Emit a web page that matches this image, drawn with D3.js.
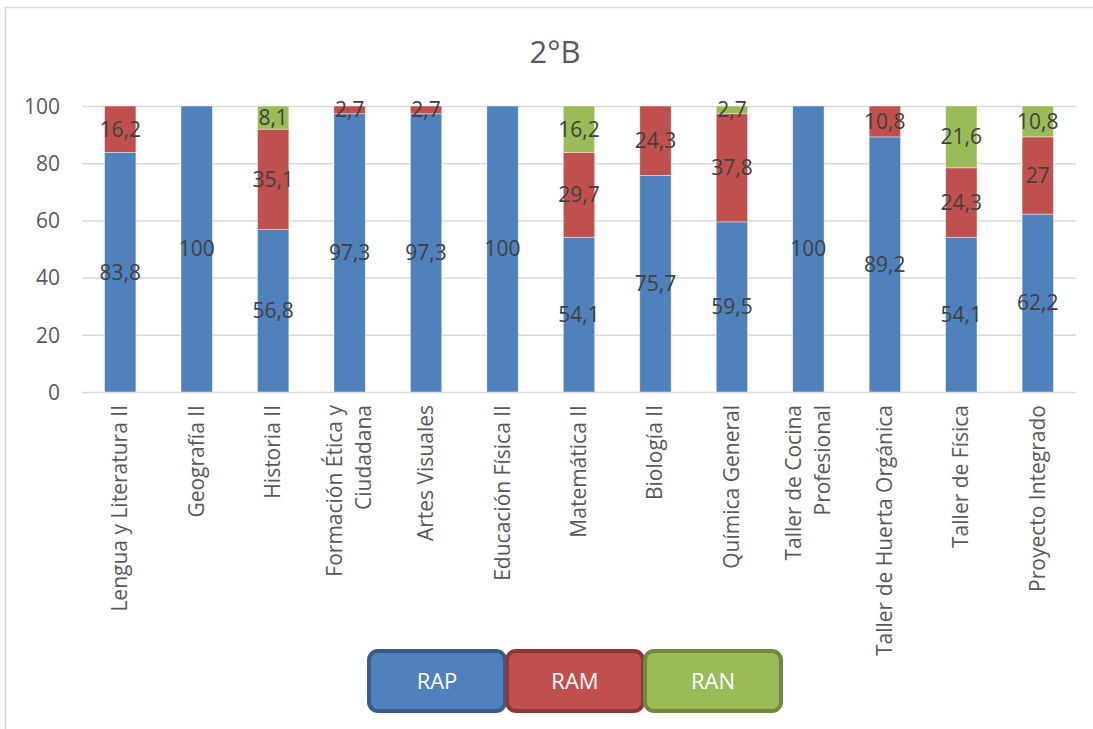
<!DOCTYPE html>
<html>
<head>
<meta charset="utf-8">
<script src="https://cdn.jsdelivr.net/npm/d3@7"></script>
<style>
  html, body { margin: 0; padding: 0; background: #fff; }
  svg { display: block; font-family: "Open Sans", sans-serif; }
</style>
</head>
<body>
<svg id="chart" width="1093" height="729"></svg>
<script>
const categories = [
  ["Lengua y Literatura II"],
  ["Geografía II"],
  ["Historia II"],
  ["Formación Ética y", "Ciudadana"],
  ["Artes Visuales"],
  ["Educación Física II"],
  ["Matemática II"],
  ["Biología II"],
  ["Química General"],
  ["Taller de Cocina", "Profesional"],
  ["Taller de Huerta Orgánica"],
  ["Taller de Física"],
  ["Proyecto Integrado"]
];
const seriesNames = ["RAP", "RAM", "RAN"];
const RAP = [83.8, 100, 56.8, 97.3, 97.3, 100, 54.1, 75.7, 59.5, 100, 89.2, 54.1, 62.2];
const RAM = [16.2, 0, 35.1, 2.7, 2.7, 0, 29.7, 24.3, 37.8, 0, 10.8, 24.3, 27];
const RAN = [0, 0, 8.1, 0, 0, 0, 16.2, 0, 2.7, 0, 0, 21.6, 10.8];
const yTicks = [0, 20, 40, 60, 80, 100];
const title = "2°B";

const fills = ["#4f81bd", "#c0504d", "#9bbb59"];
const strokes = ["#385d8a", "#8c3836", "#71893f"];

const svg = d3.select("#chart");
const W = 1093, H = 729;

// chart border
svg.append("rect").attr("x", 5.5).attr("y", 7.5).attr("width", W).attr("height", H)
  .attr("fill", "none").attr("stroke", "#d9d9d9").attr("stroke-width", 1.5);

const pLeft = 82, pRight = 1076, pTop = 106, pBottom = 392;
const keys = categories.map((c, i) => i);
const x = d3.scaleBand().domain(keys).range([pLeft, pRight]).paddingInner(0.59).paddingOuter(0.295);
const y = d3.scaleLinear().domain([0, 100]).range([pBottom, pTop]);

// gridlines
svg.append("g").selectAll("line").data(yTicks).join("line")
  .attr("x1", pLeft).attr("x2", pRight)
  .attr("y1", d => y(d) + 0.5).attr("y2", d => y(d) + 0.5)
  .attr("stroke", "#d9d9d9").attr("stroke-width", 1.5);

// y axis labels
const yAxis = d3.axisLeft(y).tickValues(yTicks).tickSize(0).tickPadding(0);
const ya = svg.append("g").attr("transform", `translate(60,0)`).call(yAxis);
ya.select(".domain").remove();
ya.selectAll("text").attr("font-size", 21).attr("fill", "#595959")
  .attr("font-family", "Open Sans, sans-serif").attr("dy", "0.35em");

// stacked data
const rows = keys.map(i => ({ i, RAP: RAP[i], RAM: RAM[i], RAN: RAN[i] }));
const stack = d3.stack().keys(seriesNames)(rows);

const gBars = svg.append("g");
stack.forEach((layer, li) => {
  gBars.append("g").selectAll("rect").data(layer.filter(d => d[1] - d[0] > 0)).join("rect")
    .attr("x", d => x(d.data.i))
    .attr("width", x.bandwidth())
    .attr("y", d => y(d[1]))
    .attr("height", d => y(d[0]) - y(d[1]))
    .attr("fill", fills[li])
    .attr("stroke", "rgba(255,255,255,0.5)").attr("stroke-width", 0.8);
});
const fmt = v => String(Math.round(v * 10) / 10).replace(".", ",");
stack.forEach((layer, li) => {
  gBars.append("g").selectAll("text").data(layer.filter(d => d[1] - d[0] > 0)).join("text")
    .attr("x", d => x(d.data.i) + x.bandwidth() / 2)
    .attr("y", d => y((d[0] + d[1]) / 2))
    .attr("dy", "0.35em")
    .attr("text-anchor", "middle")
    .attr("font-size", 21).attr("fill", "#404040")
    .text(d => fmt(d[1] - d[0]));
});

// x axis labels (rotated)
const xl = svg.append("g");
categories.forEach((lines, i) => {
  const cx = x(i) + x.bandwidth() / 2;
  const n = lines.length;
  lines.forEach((ln, k) => {
    const off = (k - (n - 1) / 2) * 29;
    xl.append("text")
      .attr("transform", `translate(${cx + off + 7},405) rotate(-90)`)
      .attr("text-anchor", "end")
      .attr("font-size", 21).attr("fill", "#595959")
      .text(ln);
  });
});

// title
svg.append("text").attr("x", 555).attr("y", 63).attr("text-anchor", "middle")
  .attr("font-size", 31).attr("fill", "#595959").text(title);

// legend
const legX = [369, 507, 645];
const lg = svg.append("g");
seriesNames.forEach((s, i) => {
  lg.append("rect").attr("x", legX[i]).attr("y", 651).attr("width", 136).attr("height", 60)
    .attr("rx", 9).attr("ry", 9)
    .attr("fill", fills[i]).attr("stroke", strokes[i]).attr("stroke-width", 4);
  lg.append("text").attr("x", legX[i] + 68).attr("y", 689).attr("text-anchor", "middle")
    .attr("font-size", 22).attr("fill", "#fff").text(s);
});
</script>
</body>
</html>
